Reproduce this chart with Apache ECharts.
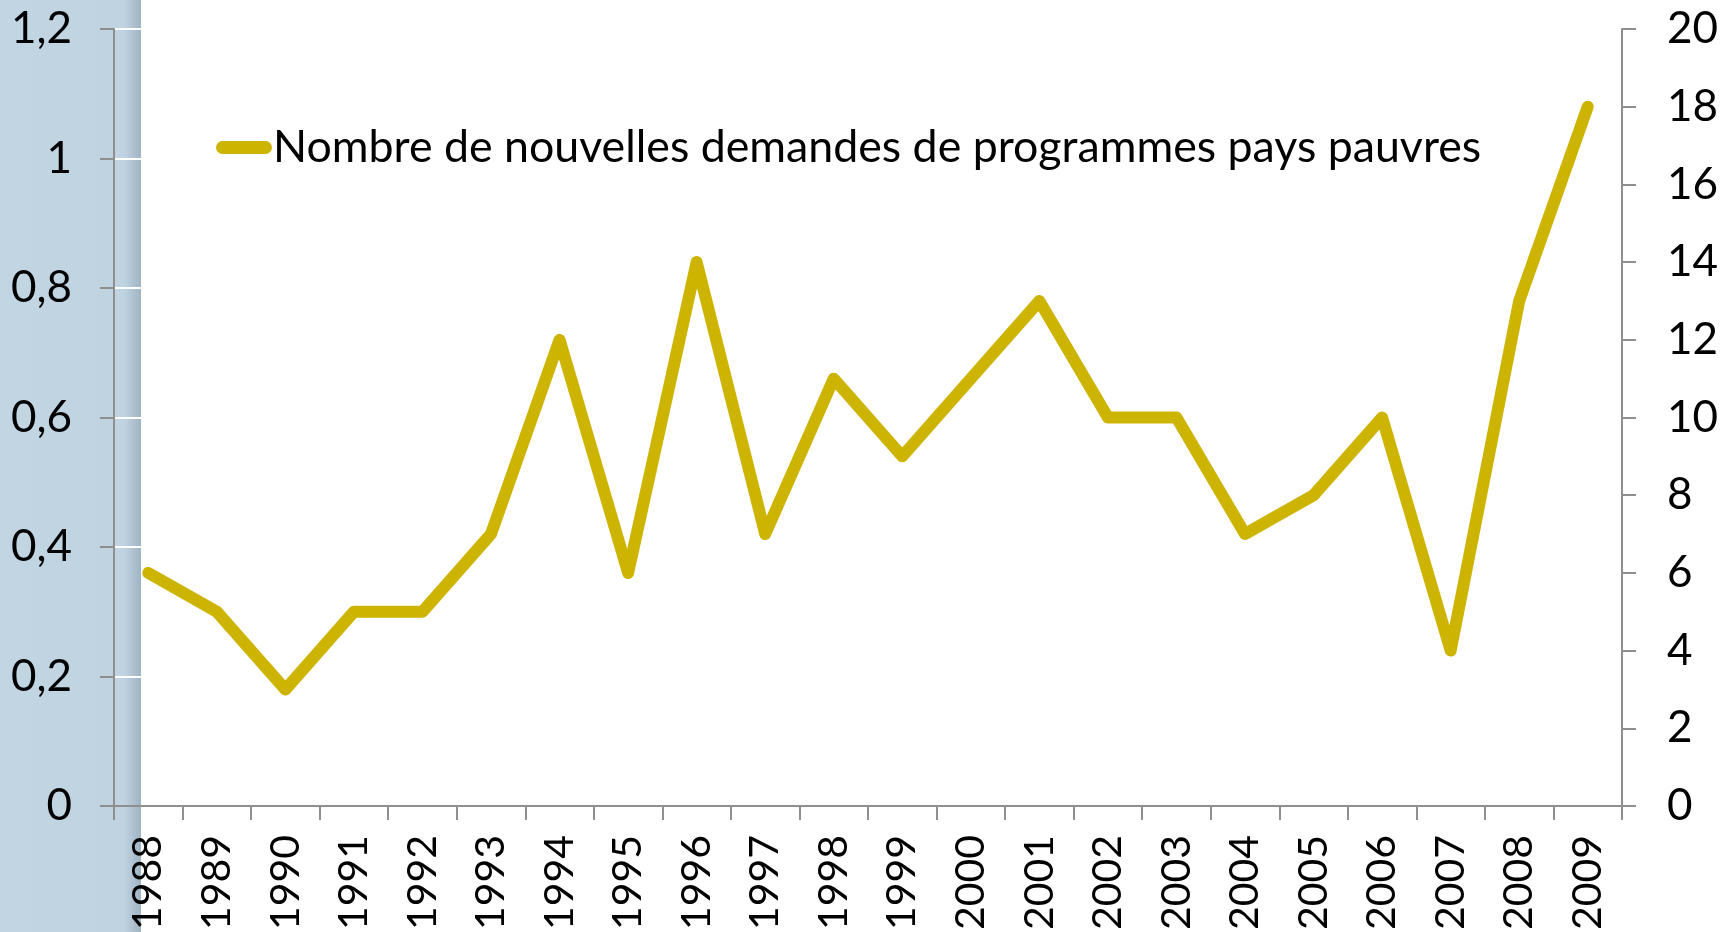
<!DOCTYPE html>
<html>
<head>
<meta charset="utf-8">
<script src="https://cdn.jsdelivr.net/npm/echarts@6/dist/echarts.min.js"></script>
<style>
  html, body { margin: 0; padding: 0; background: #fff; }
  #chart { width: 1727px; height: 932px; }
</style>
</head>
<body>
<div id="chart"></div>
<script>
// Data
const years = ['1988', '1989', '1990', '1991', '1992', '1993', '1994', '1995', '1996', '1997', '1998',
    '1999', '2000', '2001', '2002', '2003', '2004', '2005', '2006', '2007', '2008', '2009'];
const nouvellesDemandes = [6, 5, 3, 5, 5, 7, 12, 6, 14, 7, 11, 9, 11, 13, 10, 10, 7, 8, 10, 4, 13, 18];
const seriesName = 'Nombre de nouvelles demandes de programmes pays pauvres';

const FONT = 'Lato';
const AXIS_GREY = '#8f8f8f';
const GOLD = '#cdb400';

const chart = echarts.init(document.getElementById('chart'));

chart.setOption({
    backgroundColor: '#ffffff',
    animation: false,
    textStyle: { fontFamily: FONT },
    graphic: [{
        // textured blue strip on the left edge
        type: 'rect',
        z: -10,
        silent: true,
        shape: { x: 0, y: 0, width: 141, height: 932 },
        style: {
            fill: new echarts.graphic.LinearGradient(0, 0, 1, 0, [
                { offset: 0, color: '#c2d5e3' },
                { offset: 0.88, color: '#c0d3e1' },
                { offset: 1, color: '#9fb3c3' }
            ])
        }
    }],
    grid: { left: 114, right: 105, top: 29, bottom: 126, containLabel: false, outerBoundsMode: 'none' },
    legend: {
        left: 211,
        top: 120,
        itemWidth: 56,
        itemHeight: 13,
        itemGap: 0,
        icon: 'path://M6,0 H50 A6.5,6.5 0 0 1 50,13 H6 A6.5,6.5 0 0 1 6,0 Z',
        textStyle: { fontFamily: FONT, fontSize: 44.7, color: '#000', padding: [0, 0, 0, -4] },
        data: [seriesName]
    },
    xAxis: {
        type: 'category',
        data: years,
        boundaryGap: true,
        axisLine: { lineStyle: { color: AXIS_GREY, width: 2 } },
        axisTick: { show: true, interval: 0, length: 14, lineStyle: { color: AXIS_GREY, width: 2 } },
        axisLabel: { interval: 0, rotate: 90, margin: 29, fontSize: 41, color: '#000', fontFamily: FONT }
    },
    yAxis: [{
        type: 'value',
        position: 'left',
        min: 0,
        max: 1.2,
        interval: 0.2,
        axisLine: { show: true, lineStyle: { color: AXIS_GREY, width: 2 } },
        axisTick: { show: true, length: 14, lineStyle: { color: AXIS_GREY, width: 2 } },
        splitLine: { show: true, lineStyle: { color: '#ffffff', width: 2 } },
        axisLabel: {
            margin: 42,
            fontSize: 44,
            color: '#000',
            fontFamily: FONT,
            formatter: v => String(Math.round(v * 10) / 10).replace('.', ',')
        }
    }, {
        type: 'value',
        position: 'right',
        min: 0,
        max: 20,
        interval: 2,
        axisLine: { show: true, lineStyle: { color: AXIS_GREY, width: 2 } },
        axisTick: { show: true, length: 14, lineStyle: { color: AXIS_GREY, width: 2 } },
        splitLine: { show: false },
        axisLabel: { margin: 45, fontSize: 44, color: '#000', fontFamily: FONT }
    }],
    series: [{
        name: seriesName,
        type: 'line',
        yAxisIndex: 1,
        data: nouvellesDemandes,
        symbol: 'none',
        itemStyle: { color: GOLD },
        lineStyle: { color: GOLD, width: 12, join: 'round', cap: 'round' }
    }]
});

window.addEventListener('resize', () => chart.resize());
</script>
</body>
</html>
